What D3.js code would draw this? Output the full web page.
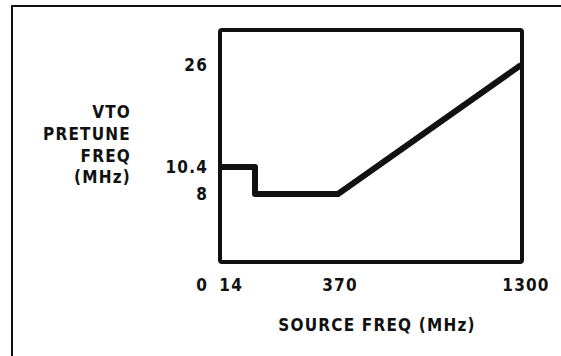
<!DOCTYPE html>
<html>
<head>
<meta charset="utf-8">
<script src="https://cdn.jsdelivr.net/npm/d3@7/dist/d3.min.js"></script>
<style>
  html, body { margin: 0; padding: 0; background: #fff; }
  svg text {
    font-family: "DejaVu Sans", sans-serif;
    font-stretch: condensed;
    font-weight: bold;
    font-size: 17px;
    letter-spacing: 1.2px;
    fill: #111;
  }
</style>
</head>
<body>
<svg id="chart" width="561" height="356"></svg>
<script>
// VTO pretune frequency versus source frequency (breakpoints, MHz)
const sourceFreq = [0, 14, 14, 370, 1300];
const pretuneFreq = [10.4, 10.4, 8, 8, 26];

// Axis breakpoints shown as tick labels
const xTicks = [0, 14, 370, 1300];
const yTicks = [8, 10.4, 26];
const yTitle = ["VTO", "PRETUNE", "FREQ", "(MHz)"];
const xTitle = "SOURCE FREQ (MHz)";

const svg = d3.select("#chart");

const box = { left: 220, top: 30, right: 522, bottom: 262 };

// The drawing is schematic: each breakpoint gets its own segment of the axis
const x = d3.scaleLinear()
  .domain([0, 14, 370, 1300])
  .range([box.left, 255, 338, 521]);
const y = d3.scaleLinear()
  .domain([0, 8, 10.4, 26])
  .range([box.bottom, 194, 167, 65]);

// Outer frame (open to the right and bottom)
svg.append("path")
  .attr("d", `M12,356 L12,6 L561,6`)
  .attr("fill", "none")
  .attr("stroke", "#111")
  .attr("stroke-width", 2);

// Plot box
svg.append("rect")
  .attr("x", box.left)
  .attr("y", box.top)
  .attr("width", box.right - box.left)
  .attr("height", box.bottom - box.top)
  .attr("rx", 2)
  .attr("fill", "none")
  .attr("stroke", "#111")
  .attr("stroke-width", 4);

// Pretune curve
const line = d3.line()
  .x((d, i) => x(sourceFreq[i]))
  .y(d => y(d));

svg.append("path")
  .datum(pretuneFreq)
  .attr("d", line)
  .attr("fill", "none")
  .attr("stroke", "#111")
  .attr("stroke-width", 6)
  .attr("stroke-linejoin", "round");

// Y tick labels
svg.append("g")
  .selectAll("text")
  .data(yTicks)
  .join("text")
  .attr("x", box.left - 12)
  .attr("y", d => y(d))
  .attr("dy", "0.36em")
  .attr("text-anchor", "end")
  .text(d => d);

// X tick labels: the two lowest sit left of their breakpoint
svg.append("g")
  .selectAll("text")
  .data(xTicks)
  .join("text")
  .attr("x", d => d <= 14 ? x(d) - 12 : x(d) + (d === 1300 ? 5 : 2))
  .attr("y", 285)
  .attr("dy", "0.36em")
  .attr("text-anchor", d => d <= 14 ? "end" : "middle")
  .text(d => d);

// Y axis title
svg.append("text")
  .attr("text-anchor", "end")
  .selectAll("tspan")
  .data(yTitle)
  .join("tspan")
  .attr("x", 131)
  .attr("y", (d, i) => 112 + i * 21.7)
  .attr("dy", "0.36em")
  .text(d => d);

// X axis title
svg.append("text")
  .attr("x", 377)
  .attr("y", 325)
  .attr("dy", "0.36em")
  .attr("text-anchor", "middle")
  .text(xTitle);
</script>
</body>
</html>
